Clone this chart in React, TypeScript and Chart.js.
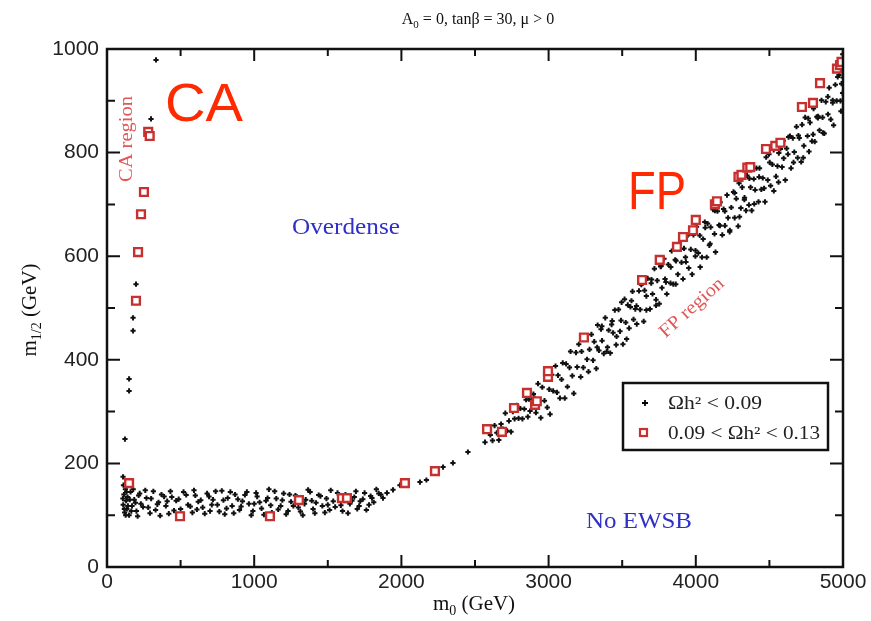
import React, { useEffect, useRef } from 'react';
import { Chart, registerables } from 'chart.js';

Chart.register(...registerables);

// ---- Data (m0 [GeV], m1/2 [GeV]) ----
const xTickValues = [0, 1000, 2000, 3000, 4000, 5000];
const yTickValues = [0, 200, 400, 600, 800, 1000];

// Omega h^2 < 0.09 : CA (coannihilation) branch
const blackCA: number[][] = [
  [333, 979], [299, 865], [197, 546], [177, 481], [177, 456], [150, 363], [150, 340], [122, 247], [109, 174],
];

// Omega h^2 < 0.09 : low m1/2 band
const blackLow: number[][] = [
  [110, 120], [115, 140], [120, 105], [125, 150], [130, 128], [135, 112], [140, 135], [150, 100], [160, 145],
  [170, 118], [185, 130], [200, 108], [215, 138], [230, 122], [260, 148], [280, 115], [300, 132], [330, 110],
  [350, 125], [370, 140], [400, 118], [420, 103], [440, 135], [470, 128], [500, 112], [520, 145], [550, 120],
  [580, 105], [600, 138], [620, 126], [650, 115], [680, 142], [700, 108], [720, 130], [750, 120], [780, 147],
  [800, 102], [820, 133], [850, 118], [870, 140], [900, 110], [920, 127], [950, 145], [980, 100], [1000, 122],
  [1020, 136], [1050, 113], [1080, 128], [1100, 150], [1120, 105], [1150, 132], [1180, 118], [1200, 142],
  [1230, 108], [1250, 126], [1280, 138], [1300, 115], [1330, 100], [1350, 130], [1380, 145], [1400, 112],
  [1420, 124], [1450, 137], [1480, 105], [1500, 120], [1520, 148], [1550, 116], [1580, 130], [1600, 108],
  [1620, 140], [1650, 122], [1680, 135], [1700, 112], [1720, 127], [1750, 143], [1780, 120], [1800, 133],
  [1830, 150], [1860, 140],
  [108, 132], [112, 158], [118, 112], [127, 100], [133, 145], [142, 118], [155, 130], [165, 108], [178, 150],
  [193, 124], [208, 98], [222, 142], [245, 116], [268, 133], [292, 104], [315, 146], [342, 121], [361, 99],
  [388, 136], [409, 127], [431, 146], [455, 109], [487, 131], [512, 102], [538, 139], [566, 117], [591, 148],
  [611, 111], [637, 129], [664, 103], [693, 136], [712, 120], [738, 146], [763, 107], [791, 129], [812, 113],
  [838, 145], [861, 104], [889, 131], [911, 117], [937, 139], [964, 122], [991, 108], [1013, 143], [1037, 125],
  [1066, 101], [1091, 133], [1112, 119], [1139, 146], [1163, 111], [1191, 129], [1217, 102], [1240, 140],
  [1266, 118], [1291, 135], [1314, 107], [1342, 122], [1366, 149], [1391, 128], [1412, 104], [1438, 139],
  [1463, 118], [1491, 132], [1512, 110], [1537, 127], [1566, 143], [1589, 119], [1612, 132], [1637, 104],
  [1664, 128], [1691, 146], [1713, 118], [1738, 131], [1762, 110], [1791, 137], [1812, 125], [1846, 142],
  [1875, 133], [1902, 143], [1943, 149], [1990, 158], [2126, 164], [2170, 168], [2283, 193],
  [2350, 201], [2452, 222], [2568, 241],
];

// Omega h^2 < 0.09 : focus-point band
const blackFP: number[][] = [
  [2604, 255], [2619, 244], [2633, 273], [2648, 259], [2662, 245], [2677, 276], [2690, 266], [2706, 297],
  [2718, 263], [2731, 282], [2745, 261], [2757, 300], [2769, 286], [2784, 312], [2796, 287], [2808, 306],
  [2822, 286], [2835, 305], [2847, 323], [2859, 290], [2866, 324], [2874, 301], [2888, 322], [2897, 334],
  [2905, 326], [2914, 298], [2928, 354], [2935, 320], [2947, 288], [2957, 347], [2972, 321], [2980, 370],
  [2991, 308], [3004, 343], [3010, 295], [3022, 371], [3031, 340], [3047, 388], [3057, 337], [3064, 370],
  [3077, 326], [3088, 362], [3096, 394], [3110, 326], [3119, 392], [3128, 348], [3142, 385], [3149, 416],
  [3161, 369], [3171, 335], [3186, 414], [3194, 386], [3205, 430], [3218, 367], [3224, 416], [3236, 385],
  [3245, 442], [3261, 401], [3271, 377], [3278, 420], [3291, 449], [3302, 399], [3310, 435], [3324, 383],
  [3333, 467], [3342, 418], [3356, 459], [3363, 437], [3375, 412], [3385, 481], [3400, 424], [3408, 457],
  [3419, 413], [3432, 475], [3438, 452], [3450, 496], [3459, 429], [3475, 497], [3485, 455], [3492, 476],
  [3505, 430], [3516, 517], [3524, 472], [3538, 506], [3547, 461], [3556, 502], [3570, 532], [3577, 478],
  [3589, 498], [3599, 469], [3614, 533], [3622, 497], [3633, 550], [3646, 474], [3652, 534], [3664, 523],
  [3673, 557], [3689, 498], [3699, 555], [3706, 527], [3719, 576], [3730, 516], [3738, 553], [3752, 508],
  [3761, 580], [3770, 539], [3784, 595], [3791, 556], [3803, 527], [3813, 584], [3828, 548], [3836, 610],
  [3847, 546], [3860, 593], [3866, 591], [3878, 565], [3887, 620], [3903, 588], [3913, 556], [3920, 615],
  [3933, 589], [3944, 640], [3952, 577], [3966, 613], [3975, 565], [3984, 641], [3998, 611], [4005, 657],
  [4017, 606], [4027, 640], [4042, 598], [4050, 633], [4061, 666], [4074, 598], [4080, 663], [4092, 621],
  [4101, 656], [4117, 690], [4127, 643], [4134, 608], [4147, 687], [4158, 660], [4166, 704], [4180, 641],
  [4189, 691], [4198, 659], [4212, 718], [4219, 674], [4231, 650], [4241, 694], [4256, 724], [4264, 674],
  [4275, 711], [4288, 658], [4294, 741], [4306, 693], [4315, 733], [4331, 713], [4341, 688], [4348, 756],
  [4361, 699], [4372, 733], [4380, 688], [4394, 749], [4403, 728], [4412, 770], [4426, 705], [4433, 770],
  [4445, 729], [4455, 751], [4470, 705], [4478, 791], [4489, 747], [4502, 781], [4508, 736], [4520, 777],
  [4529, 805], [4545, 754], [4555, 774], [4562, 743], [4575, 807], [4586, 772], [4594, 823], [4608, 747],
  [4617, 808], [4626, 797], [4640, 832], [4647, 770], [4659, 828], [4669, 801], [4684, 850], [4692, 790],
  [4703, 828], [4716, 782], [4722, 854], [4734, 813], [4743, 868], [4759, 832], [4769, 802], [4776, 858],
  [4789, 822], [4800, 885], [4808, 821], [4822, 869], [4831, 870], [4840, 843], [4854, 901], [4861, 868],
  [4873, 837], [4883, 898], [4898, 874], [4906, 925], [4917, 864], [4930, 901], [4936, 853], [4948, 931],
  [4957, 900], [4973, 950], [4983, 900], [4990, 933], [4994, 965], [4998, 990], [4986, 880], [4997, 915],
  [5000, 945],
  [3330, 424], [3362, 465], [3395, 416], [3428, 468], [3462, 445], [3496, 511], [3530, 440], [3563, 514],
  [3597, 504], [3630, 545], [3664, 496], [3697, 548], [3730, 505], [3764, 581], [3797, 550], [3830, 579],
  [3864, 546], [3897, 614], [3930, 598], [3964, 645], [3997, 600], [4030, 579], [4064, 655], [4097, 624],
  [4130, 688], [4164, 659], [4197, 687], [4230, 647], [4264, 722], [4297, 676], [4330, 709], [4364, 750],
  [4397, 701], [4430, 753], [4464, 731], [4497, 797], [4530, 726], [4564, 799], [4597, 789], [4630, 830],
  [4664, 781], [4697, 833], [4730, 790], [4764, 866], [4797, 835], [4830, 867], [4864, 838], [4897, 908],
  [4930, 896], [4964, 946],
];

// 0.09 < Omega h^2 < 0.13
const redPoints: number[][] = [
  [150, 162], [197, 514], [211, 608], [231, 681], [251, 724], [280, 840], [290, 832],
  [496, 98], [1107, 98], [1304, 129], [1596, 133], [1630, 133], [2024, 162], [2228, 185],
  [2582, 266], [2683, 261], [2765, 307], [2853, 336], [2908, 313], [2920, 320], [2996, 367], [2996, 378],
  [3240, 443], [3635, 554], [3755, 593], [3872, 618], [3913, 637], [3981, 650], [4000, 670], [4130, 700],
  [4144, 706], [4290, 753], [4310, 757], [4350, 771], [4370, 772], [4477, 807], [4540, 813], [4575, 819],
  [4721, 888], [4796, 896], [4844, 934], [4959, 962], [4980, 969], [4990, 975],
];

const legendLabels = ['\u03A9h\u00B2 < 0.09', '0.09 < \u03A9h\u00B2 < 0.13'];

const toXY = (arr: number[][]) => arr.map(([x, y]) => ({ x, y }));

const SERIF = '"Liberation Serif", "DejaVu Serif", serif';
const SANS = '"Liberation Sans", Arial, sans-serif';

function fitText(ctx: CanvasRenderingContext2D, text: string, cx: number, cy: number, width: number, font: string, color: string, rot = 0) {
  ctx.save();
  ctx.font = font;
  ctx.fillStyle = color;
  ctx.textAlign = 'center';
  ctx.textBaseline = 'middle';
  const w = ctx.measureText(text).width;
  ctx.translate(cx, cy);
  ctx.rotate(rot);
  ctx.scale(width / w, 1);
  ctx.fillText(text, 0, 0);
  ctx.restore();
}

function drawRuns(ctx: CanvasRenderingContext2D, runs: [string, number, number][], cx: number, cy: number, family: string, color: string, rot = 0) {
  ctx.save();
  ctx.fillStyle = color;
  ctx.textBaseline = 'alphabetic';
  ctx.textAlign = 'left';
  let total = 0;
  const widths = runs.map(([t, s]) => {
    ctx.font = `${s}px ${family}`;
    const w = ctx.measureText(t).width;
    total += w;
    return w;
  });
  ctx.translate(cx, cy);
  ctx.rotate(rot);
  let x = -total / 2;
  runs.forEach(([t, s, dy], i) => {
    ctx.font = `${s}px ${family}`;
    ctx.fillText(t, x, dy);
    x += widths[i];
  });
  ctx.restore();
}

const decorPlugin = {
  id: 'decor',
  afterDatasetsDraw(chart: any) {
    const ctx: CanvasRenderingContext2D = chart.ctx;
    const { left, right, top, bottom } = chart.chartArea;
    const xs = chart.scales.x;
    const ys = chart.scales.y;
    ctx.save();
    ctx.strokeStyle = '#111';
    ctx.lineWidth = 2.5;
    ctx.strokeRect(left, top, right - left, bottom - top);
    ctx.lineWidth = 2;
    for (let v = 500; v < 5000; v += 500) {
      const p = xs.getPixelForValue(v);
      const len = v % 1000 === 0 ? 12 : 7;
      ctx.beginPath();
      ctx.moveTo(p, bottom); ctx.lineTo(p, bottom - len);
      ctx.moveTo(p, top); ctx.lineTo(p, top + len);
      ctx.stroke();
    }
    for (let v = 100; v < 1000; v += 100) {
      const p = ys.getPixelForValue(v);
      const len = v % 200 === 0 ? 13 : 8;
      ctx.beginPath();
      ctx.moveTo(left, p); ctx.lineTo(left + len, p);
      ctx.moveTo(right, p); ctx.lineTo(right - len, p);
      ctx.stroke();
    }
    ctx.restore();

    fitText(ctx, 'CA', 204, 106, 78, `54px ${SANS}`, '#ff2a00');
    fitText(ctx, 'FP', 657, 194, 58, `54px ${SANS}`, '#ff2a00');
    fitText(ctx, 'CA region', 127, 139, 86, `19px ${SERIF}`, '#e05858', -Math.PI / 2);
    fitText(ctx, 'FP region', 692, 308, 80, `19px ${SERIF}`, '#e05858', -42 * Math.PI / 180);
    fitText(ctx, 'Overdense', 346, 228, 108, `24px ${SERIF}`, '#3030c8');
    fitText(ctx, 'No EWSB', 639, 522, 106, `24px ${SERIF}`, '#3030c8');

    drawRuns(ctx, [['A', 16, 0], ['0', 11, 4], [' = 0, tan\u03B2 = 30, \u03BC > 0', 16, 0]], 478, 24, SERIF, '#111');

    drawRuns(ctx, [['m', 21, 0], ['0', 14, 5], [' (GeV)', 21, 0]], 474, 610, SERIF, '#111');
    drawRuns(ctx, [['m', 21, 0], ['1/2', 14, 5], [' (GeV)', 21, 0]], 36, 310, SERIF, '#111', -Math.PI / 2);

    ctx.save();
    ctx.strokeStyle = '#111';
    ctx.lineWidth = 2.5;
    ctx.strokeRect(623, 383, 205, 67);
    ctx.strokeStyle = '#000';
    ctx.lineWidth = 1.8;
    ctx.beginPath();
    ctx.moveTo(642, 403); ctx.lineTo(648, 403);
    ctx.moveTo(645, 400); ctx.lineTo(645, 406);
    ctx.stroke();
    ctx.strokeStyle = '#c83030';
    ctx.lineWidth = 2.2;
    ctx.fillStyle = '#fff';
    ctx.fillRect(640, 429, 7, 7);
    ctx.strokeRect(640, 429, 7, 7);
    ctx.fillStyle = '#222';
    ctx.font = `18px ${SERIF}`;
    ctx.textBaseline = 'middle';
    ctx.textAlign = 'left';
    const w1 = ctx.measureText(legendLabels[0]).width;
    ctx.save(); ctx.translate(668, 404); ctx.scale(94 / w1, 1); ctx.fillText(legendLabels[0], 0, 0); ctx.restore();
    const w2 = ctx.measureText(legendLabels[1]).width;
    ctx.save(); ctx.translate(668, 434); ctx.scale(152 / w2, 1); ctx.fillText(legendLabels[1], 0, 0); ctx.restore();
    ctx.restore();
  },
};

export default function App() {
  const ref = useRef<HTMLCanvasElement | null>(null);
  useEffect(() => {
    if (!ref.current) return;
    const tickFont = { family: SANS, size: 21 };
    const chart = new Chart(ref.current, {
      type: 'scatter',
      data: {
        datasets: [
          {
            label: legendLabels[1],
            data: toXY(redPoints),
            pointStyle: 'rect',
            pointRadius: 5.5,
            pointBorderWidth: 2.4,
            pointBorderColor: '#c83030',
            pointBackgroundColor: '#ffffff',
            order: 0,
          },
          {
            label: legendLabels[0],
            data: toXY([...blackCA, ...blackLow, ...blackFP]),
            pointStyle: 'cross',
            pointRadius: 2.6,
            pointBorderWidth: 2,
            pointBorderColor: '#111',
            pointBackgroundColor: '#111',
            order: 1,
          },
        ],
      },
      options: {
        responsive: false,
        animation: false,
        devicePixelRatio: 1,
        layout: { padding: { top: 49, right: 28, left: 0, bottom: 0 } },
        plugins: { legend: { display: false }, tooltip: { enabled: false }, title: { display: false } },
        scales: {
          x: {
            type: 'linear',
            min: 0,
            max: 5000,
            grid: { display: false, drawTicks: false },
            border: { display: false },
            afterBuildTicks: (s: any) => { s.ticks = xTickValues.map((v) => ({ value: v })); },
            ticks: { color: '#222', font: tickFont, padding: 3, maxRotation: 0, autoSkip: false, callback: (v: any) => String(v) },
            afterFit: (s: any) => { s.height = 54; },
          },
          y: {
            type: 'linear',
            min: 0,
            max: 1000,
            grid: { display: false, drawTicks: false },
            border: { display: false },
            afterBuildTicks: (s: any) => { s.ticks = yTickValues.map((v) => ({ value: v })); },
            ticks: { color: '#222', font: tickFont, padding: 8, autoSkip: false, callback: (v: any) => String(v) },
            afterFit: (s: any) => { s.width = 107; },
          },
        },
      },
      plugins: [decorPlugin],
    });
    return () => chart.destroy();
  }, []);
  return (
    <div style={{ position: 'absolute', left: 0, top: 0, width: 871, height: 621, background: '#fff' }}>
      <canvas ref={ref} width={871} height={621} style={{ display: 'block' }} />
    </div>
  );
}
